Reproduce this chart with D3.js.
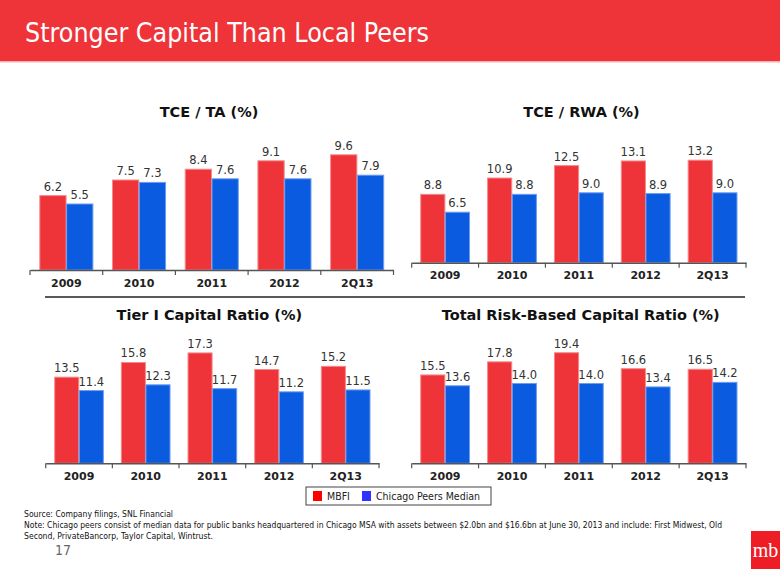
<!DOCTYPE html>
<html><head><meta charset="utf-8">
<script src="https://cdn.jsdelivr.net/npm/d3@7"></script>
<style>body{margin:0;background:#fff}svg{display:block}</style>
</head><body>
<script>
const categories = ["2009","2010","2011","2012","2Q13"];
const seriesNames = ["MBFI","Chicago Peers Median"];
const tceTaMBFI = [6.2,7.5,8.4,9.1,9.6];
const tceTaPeers = [5.5,7.3,7.6,7.6,7.9];
const tceRwaMBFI = [8.8,10.9,12.5,13.1,13.2];
const tceRwaPeers = [6.5,8.8,9.0,8.9,9.0];
const tier1MBFI = [13.5,15.8,17.3,14.7,15.2];
const tier1Peers = [11.4,12.3,11.7,11.2,11.5];
const totalRbcMBFI = [15.5,17.8,19.4,16.6,16.5];
const totalRbcPeers = [13.6,14.0,14.0,13.4,14.2];
const chartTitles = ["TCE / TA (%)","TCE / RWA (%)","Tier I Capital Ratio (%)","Total Risk-Based Capital Ratio (%)"];

const W=780,H=585;
const RED="#ee3439", BLUE="#0a5be0";
const svg=d3.select("body").append("svg").attr("width",W).attr("height",H);
const cond="'DejaVu Sans Condensed','Liberation Sans Narrow','DejaVu Sans',sans-serif";
const verd="'DejaVu Sans',Verdana,sans-serif";

// header
svg.append("rect").attr("x",0).attr("y",0).attr("width",W).attr("height",61).attr("fill","#ee3439");
svg.append("rect").attr("x",0).attr("y",61).attr("width",W).attr("height",1.5).attr("fill","#f6b0b2");
svg.append("text").attr("x",25).attr("y",42).attr("fill","#fff").attr("font-family",cond)
  .attr("font-size",26).attr("textLength",404).attr("lengthAdjust","spacingAndGlyphs").text("Stronger Capital Than Local Peers");

const panels=[
  {title:chartTitles[0],a:tceTaMBFI,b:tceTaPeers,x0:30,x1:393.5,base:270,max:10,h:120,tx:209,ty:117},
  {title:chartTitles[1],a:tceRwaMBFI,b:tceRwaPeers,x0:411.7,x1:746,base:262.7,max:15,h:116.5,tx:581.5,ty:117},
  {title:chartTitles[2],a:tier1MBFI,b:tier1Peers,x0:45.7,x1:379,base:463.3,max:20,h:127.6,tx:209.3,ty:320},
  {title:chartTitles[3],a:totalRbcMBFI,b:totalRbcPeers,x0:411.7,x1:746,base:463.3,max:22,h:125.4,tx:580.7,ty:320}
];

panels.forEach(p=>{
  const g=svg.append("g");
  const x=d3.scaleBand().domain(categories).range([p.x0,p.x1]).padding(0);
  const bw=x.bandwidth();
  const xs=d3.scaleBand().domain(seriesNames).range([bw*0.135,bw*0.865]).paddingInner(0.02);
  const y=d3.scaleLinear().domain([0,p.max]).range([p.base,p.base-p.h]);
  g.append("text").attr("x",p.tx).attr("y",p.ty).attr("text-anchor","middle").attr("font-family",verd)
    .attr("font-weight","bold").attr("font-size",14.5).attr("fill","#111").text(p.title);
  const data=[];
  categories.forEach((c,i)=>{data.push({c,s:seriesNames[0],v:p.a[i]});data.push({c,s:seriesNames[1],v:p.b[i]});});
  g.selectAll("rect.bar").data(data).enter().append("rect").attr("class","bar")
    .attr("x",d=>x(d.c)+xs(d.s)).attr("width",xs.bandwidth())
    .attr("y",d=>y(d.v)).attr("height",d=>y(0)-y(d.v))
    .attr("fill",d=>d.s===seriesNames[0]?RED:BLUE)
    .attr("stroke",d=>d.s===seriesNames[0]?"#f48a8c":"#6c9cf0").attr("stroke-width",1);
  g.selectAll("text.val").data(data).enter().append("text").attr("class","val")
    .attr("x",d=>x(d.c)+xs(d.s)+xs.bandwidth()/2).attr("y",d=>y(d.v)-5)
    .attr("text-anchor","middle").attr("font-family",verd).attr("font-size",11.5).attr("fill","#333")
    .text(d=>d3.format(".1f")(d.v));
  const ax=d3.axisBottom(x).tickSize(0).tickPadding(9);
  const axg=g.append("g").attr("transform",`translate(0,${p.base})`).call(ax);
  axg.select(".domain").attr("stroke","#555").attr("stroke-width",1.5);
  axg.selectAll("text").attr("font-family",verd).attr("font-weight","bold").attr("font-size",11).attr("fill","#222");
  const edges=categories.map(c=>x(c)).concat([p.x1]);
  g.selectAll("line.tk").data(edges).enter().append("line").attr("class","tk")
    .attr("x1",d=>d).attr("x2",d=>d).attr("y1",p.base).attr("y2",p.base+5).attr("stroke","#555").attr("stroke-width",1.2);
});

// divider
svg.append("line").attr("x1",45).attr("x2",745).attr("y1",297).attr("y2",297).attr("stroke","#222").attr("stroke-width",1.5);

// legend
const lg=svg.append("g");
lg.append("rect").attr("x",306).attr("y",487).attr("width",185).attr("height",18).attr("fill","#fff").attr("stroke","#444").attr("stroke-width",1);
const legColors=["#ff0000","#3333ff"];
const legX=[313,362];
seriesNames.forEach((s,i)=>{
  lg.append("rect").attr("x",legX[i]).attr("y",491).attr("width",9).attr("height",10).attr("fill",legColors[i]);
  lg.append("text").attr("x",legX[i]+14).attr("y",500).attr("font-family",cond).attr("font-size",10.5).attr("fill","#222").text(s);
});

// footer
const notes=["Source: Company filings, SNL Financial",
 "Note: Chicago peers consist of median data for public banks headquartered in Chicago MSA with assets between $2.0bn and $16.6bn at June 30, 2013 and include: First Midwest, Old",
 "Second, PrivateBancorp, Taylor Capital, Wintrust."];
const noteLen=[149,698,189];
notes.forEach((t,i)=>{
  svg.append("text").attr("x",24).attr("y",517+i*11).attr("font-family",cond).attr("font-size",9).attr("fill","#111")
   .attr("textLength",noteLen[i]).attr("lengthAdjust","spacingAndGlyphs").text(t);
});
svg.append("text").attr("x",55).attr("y",555).attr("font-family",cond).attr("font-size",14).attr("fill","#666").text("17");
svg.append("rect").attr("x",751).attr("y",531).attr("width",29).attr("height",38).attr("fill","#ee1c24");
svg.append("text").attr("x",765.5).attr("y",557).attr("text-anchor","middle").attr("font-family","'Liberation Serif','DejaVu Serif',serif")
  .attr("font-size",20).attr("fill","#fff").text("mb");
</script>
</body></html>
